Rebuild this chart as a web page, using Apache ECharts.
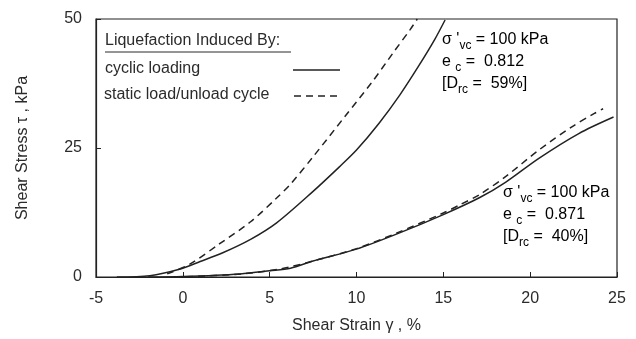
<!DOCTYPE html>
<html>
<head>
<meta charset="utf-8">
<script src="https://cdn.jsdelivr.net/npm/echarts@6/dist/echarts.min.js"></script>
<style>
  html, body { margin: 0; padding: 0; background: #fff; }
  #chart { width: 636px; height: 339px; }
</style>
</head>
<body>
<div id="chart"></div>
<script>
// x ticks / y ticks
const xTicks = [-5, 0, 5, 10, 15, 20, 25];
const yTicks = [0, 25, 50];

// D_rc = 59% specimen (e_c = 0.812)
const denseCyclic = [
  [-3.8, 0], [-1.9, 0.25], [-0.2, 1.5], [1, 3], [2.3, 4.7], [3.9, 7.3],
  [5.4, 10.5], [7.5, 16.6], [9, 21.3], [10, 24.6], [11.3, 29.8],
  [12.5, 35.3], [13.6, 41], [14.5, 46], [15.1, 49.8]
];
const denseStatic = [
  [-0.9, 0.6], [0.4, 2.5], [2.1, 6.4], [3.9, 10.7], [5.4, 15.3], [6.2, 18],
  [7.5, 23.3], [9.4, 31.4], [10.9, 37.8], [12.1, 43.4],
  [13.1, 48], [13.5, 50]
];

// D_rc = 40% specimen (e_c = 0.871)
const looseCyclic = [
  [-2, 0], [0, 0.1], [3.3, 0.6], [5, 1.2], [6.2, 1.7], [7.5, 3.1], [10, 5.4],
  [12.3, 8.3], [15, 12.1], [17.1, 15.4], [18.6, 18.4], [20.5, 23.0],
  [22.8, 27.8], [24.8, 31]
];
const looseStatic = [
  [-0.5, 0], [3, 0.5], [5.5, 1.5], [7.5, 3.1], [10, 5.5], [12.3, 8.5],
  [15, 12.4], [15.9, 13.9], [17.1, 16.0], [18.6, 19.5], [20.5, 24.6],
  [22.4, 29.1], [23.7, 31.7], [24.2, 32.6]
];

const ink = '#222';
const txt = '#2b2b2b';
const font = '"Liberation Sans", Arial, sans-serif';

const chart = echarts.init(document.getElementById('chart'));

const solid = { color: ink, width: 1.5, type: 'solid' };
const dashed = { color: ink, width: 1.5, type: [7, 5] };

const mkSeries = (data, ls) => ({
  type: 'line',
  data: data,
  smooth: 0.3,
  showSymbol: false,
  lineStyle: ls,
  silent: true
});

// rich text styles for annotations
const rich = {
  a: { fontSize: 16, fontFamily: font, color: txt, lineHeight: 22 },
  s: { fontSize: 12, fontFamily: font, color: txt, padding: [12, 0, 0, 0], lineHeight: 22 }
};

chart.setOption({
  backgroundColor: '#fff',
  animation: false,
  grid: {
    left: 96, right: 19, top: 19, bottom: 61,
    show: true, borderColor: ink, borderWidth: 1.2, backgroundColor: 'transparent'
  },
  xAxis: {
    type: 'value',
    min: xTicks[0], max: xTicks[xTicks.length - 1], interval: 5,
    name: 'Shear Strain γ , %',
    nameLocation: 'middle',
    nameGap: 41,
    nameTextStyle: { fontSize: 16, fontFamily: font, color: txt },
    axisLine: { lineStyle: { color: ink, width: 1.2 } },
    axisTick: { inside: true, length: 5, lineStyle: { color: ink } },
    axisLabel: { fontSize: 16, fontFamily: font, color: txt, margin: 14 },
    splitLine: { show: false }
  },
  yAxis: {
    type: 'value',
    min: yTicks[0], max: yTicks[yTicks.length - 1], interval: 25,
    name: 'Shear Stress τ , kPa',
    nameLocation: 'middle',
    nameGap: 65,
    nameTextStyle: { fontSize: 16, fontFamily: font, color: txt },
    axisLine: { show: true, onZero: false, lineStyle: { color: ink, width: 1.2 } },
    axisTick: { inside: true, length: 5, lineStyle: { color: ink } },
    axisLabel: { fontSize: 16, fontFamily: font, color: txt, margin: 14 },
    splitLine: { show: false }
  },
  series: [
    mkSeries(denseCyclic, solid),
    mkSeries(denseStatic, dashed),
    mkSeries(looseCyclic, solid),
    mkSeries(looseStatic, dashed)
  ],
  graphic: [
    // legend box
    { type: 'text', left: 105, top: 33,
      style: { text: 'Liquefaction Induced By:', fontSize: 16, fontFamily: font, fill: txt } },
    { type: 'line', shape: { x1: 105, y1: 52, x2: 291, y2: 52 },
      style: { stroke: txt, lineWidth: 1 } },
    { type: 'text', left: 105, top: 61,
      style: { text: 'cyclic loading', fontSize: 16, fontFamily: font, fill: txt } },
    { type: 'line', shape: { x1: 293, y1: 70, x2: 340, y2: 70 },
      style: { stroke: ink, lineWidth: 1.5 } },
    { type: 'text', left: 104, top: 87,
      style: { text: 'static load/unload cycle', fontSize: 16, fontFamily: font, fill: txt } },
    { type: 'line', shape: { x1: 294, y1: 96, x2: 340, y2: 96 },
      style: { stroke: ink, lineWidth: 1.5, lineDash: [7, 5] } },
    // dense specimen annotation
    { type: 'text', left: 442, top: 28,
      style: {
        text: "{a|σ '}{s|vc}{a| = 100 kPa}\n{a|e }{s|c}{a| =  0.812}\n{a|[D}{s|rc}{a| =  59%]}",
        rich: rich
      } },
    // loose specimen annotation
    { type: 'text', left: 503, top: 181,
      style: {
        text: "{a|σ '}{s|vc}{a| = 100 kPa}\n{a|e }{s|c}{a| =  0.871}\n{a|[D}{s|rc}{a| =  40%]}",
        rich: rich
      } }
  ]
});
</script>
</body>
</html>
